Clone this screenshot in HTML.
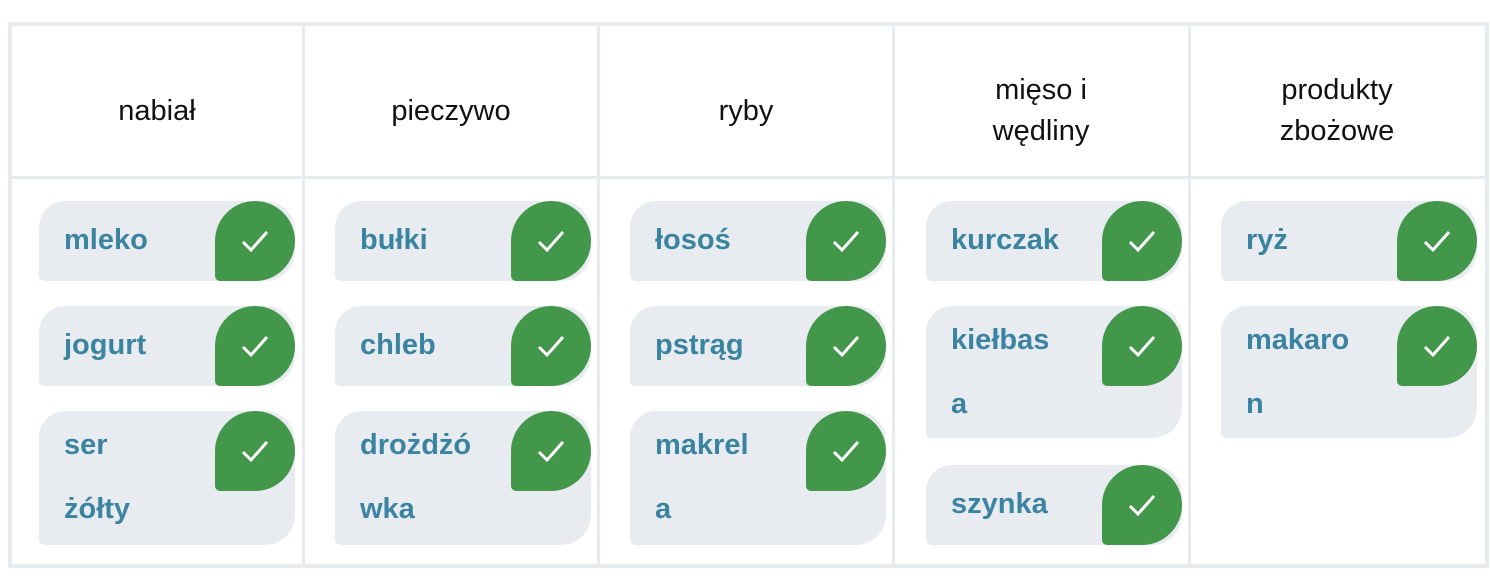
<!DOCTYPE html>
<html><head><meta charset="utf-8"><style>
body{margin:0;width:1490px;height:578px;background:#fff;position:relative;overflow:hidden;font-family:"Liberation Sans","DejaVu Sans",sans-serif}
.ln{position:absolute;background:#e6ebef}
.h{position:absolute;top:25px;height:152px;width:292px;box-sizing:border-box;padding-top:20px;display:flex;align-items:center;justify-content:center;text-align:center;font-size:29px;line-height:41px;color:#111}
.p{position:absolute;width:256px;height:80px;background:#e8ecf0;border-radius:26px 30px 30px 5px;box-sizing:border-box;padding-left:25px;font-size:29px;font-weight:bold;color:#3b84a1;line-height:78px}
.p.t{height:134px;line-height:64px;padding-top:2px}
.b{position:absolute;right:0;top:0;width:80px;height:80px;background:#42974b;border-radius:40px 40px 40px 5px}
.b svg{position:absolute;left:26px;top:27px}
</style></head><body>
<div class="ln" style="left:8px;top:22px;width:1480px;height:4px"></div>
<div class="ln" style="left:8px;top:564px;width:1480px;height:4px"></div>
<div class="ln" style="left:8px;top:176px;width:1480px;height:3px"></div>
<div class="ln" style="left:8px;top:22px;width:4px;height:546px"></div>
<div class="ln" style="left:1485px;top:22px;width:4px;height:546px"></div>
<div class="ln" style="left:302px;top:22px;width:3px;height:546px"></div>
<div class="ln" style="left:597px;top:22px;width:3px;height:546px"></div>
<div class="ln" style="left:892px;top:22px;width:3px;height:546px"></div>
<div class="ln" style="left:1188px;top:22px;width:3px;height:546px"></div>

<div class="h" style="left:11px">nabiał</div>
<div class="h" style="left:305px">pieczywo</div>
<div class="h" style="left:600px">ryby</div>
<div class="h" style="left:895px">mięso i<br>wędliny</div>
<div class="h" style="left:1191px">produkty<br>zbożowe</div>

<div class="p" style="left:39px;top:201px">mleko<div class="b"><svg width="28" height="26"><path d="M2 14 L10 22 L26 4" stroke="#fff" stroke-width="3" fill="none"/></svg></div></div>
<div class="p" style="left:39px;top:306px">jogurt<div class="b"><svg width="28" height="26"><path d="M2 14 L10 22 L26 4" stroke="#fff" stroke-width="3" fill="none"/></svg></div></div>
<div class="p t" style="left:39px;top:411px">ser<br>żółty<div class="b"><svg width="28" height="26"><path d="M2 14 L10 22 L26 4" stroke="#fff" stroke-width="3" fill="none"/></svg></div></div>

<div class="p" style="left:335px;top:201px">bułki<div class="b"><svg width="28" height="26"><path d="M2 14 L10 22 L26 4" stroke="#fff" stroke-width="3" fill="none"/></svg></div></div>
<div class="p" style="left:335px;top:306px">chleb<div class="b"><svg width="28" height="26"><path d="M2 14 L10 22 L26 4" stroke="#fff" stroke-width="3" fill="none"/></svg></div></div>
<div class="p t" style="left:335px;top:411px">drożdżó<br>wka<div class="b"><svg width="28" height="26"><path d="M2 14 L10 22 L26 4" stroke="#fff" stroke-width="3" fill="none"/></svg></div></div>

<div class="p" style="left:630px;top:201px">łosoś<div class="b"><svg width="28" height="26"><path d="M2 14 L10 22 L26 4" stroke="#fff" stroke-width="3" fill="none"/></svg></div></div>
<div class="p" style="left:630px;top:306px">pstrąg<div class="b"><svg width="28" height="26"><path d="M2 14 L10 22 L26 4" stroke="#fff" stroke-width="3" fill="none"/></svg></div></div>
<div class="p t" style="left:630px;top:411px">makrel<br>a<div class="b"><svg width="28" height="26"><path d="M2 14 L10 22 L26 4" stroke="#fff" stroke-width="3" fill="none"/></svg></div></div>

<div class="p" style="left:926px;top:201px">kurczak<div class="b"><svg width="28" height="26"><path d="M2 14 L10 22 L26 4" stroke="#fff" stroke-width="3" fill="none"/></svg></div></div>
<div class="p t" style="left:926px;top:306px;height:132px">kiełbas<br>a<div class="b"><svg width="28" height="26"><path d="M2 14 L10 22 L26 4" stroke="#fff" stroke-width="3" fill="none"/></svg></div></div>
<div class="p" style="left:926px;top:465px">szynka<div class="b"><svg width="28" height="26"><path d="M2 14 L10 22 L26 4" stroke="#fff" stroke-width="3" fill="none"/></svg></div></div>

<div class="p" style="left:1221px;top:201px">ryż<div class="b"><svg width="28" height="26"><path d="M2 14 L10 22 L26 4" stroke="#fff" stroke-width="3" fill="none"/></svg></div></div>
<div class="p t" style="left:1221px;top:306px;height:132px">makaro<br>n<div class="b"><svg width="28" height="26"><path d="M2 14 L10 22 L26 4" stroke="#fff" stroke-width="3" fill="none"/></svg></div></div>
</body></html>
